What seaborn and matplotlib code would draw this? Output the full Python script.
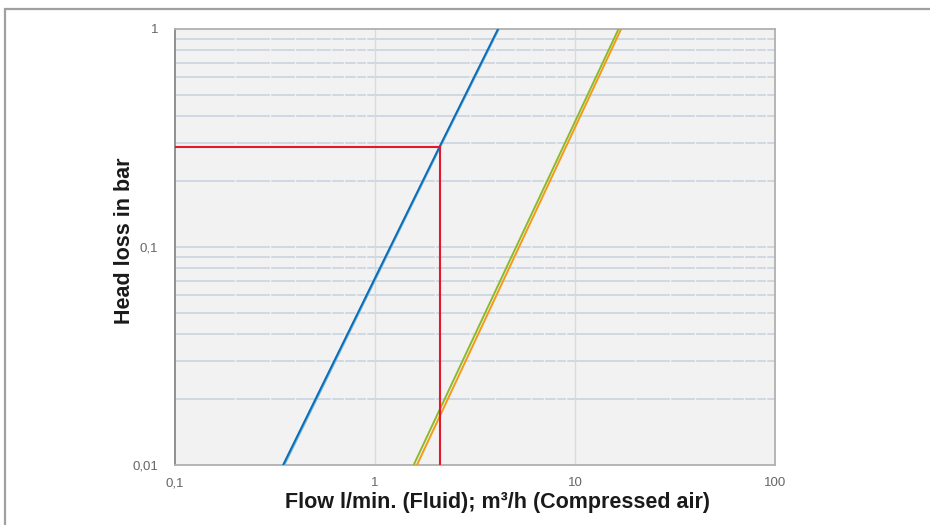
import numpy as np
import pandas as pd
import matplotlib
matplotlib.use('Agg')
import matplotlib.pyplot as plt
import matplotlib.ticker as mticker
from matplotlib.patches import Rectangle
import seaborn as sns

# flow values (x) and head loss (y)
blue_flow = [0.347, 2.1, 4.12]
blue_loss = [0.01, 0.288, 1.0]
lightblue_flow = [0.352, 2.12, 4.16]
lightblue_loss = [0.01, 0.288, 1.0]
green_flow = [1.56, 16.5]
green_loss = [0.01, 1.0]
orange_flow = [1.62, 17.0]
orange_loss = [0.01, 1.0]

# example reading (red guide lines)
read_flow = 2.11
read_loss = 0.288

x_ticks = [0.1, 1, 10, 100]
x_tick_labels = ['0,1', '1', '10', '100']
y_ticks = [0.01, 0.1, 1]
y_tick_labels = ['0,01', '0,1', '1']

frames = []
for name, xs, ys in [('blue', blue_flow, blue_loss), ('lightblue', lightblue_flow, lightblue_loss),
                     ('green', green_flow, green_loss), ('orange', orange_flow, orange_loss)]:
    frames.append(pd.DataFrame({'flow': xs, 'loss': ys, 'series': name}))
df = pd.concat(frames, ignore_index=True)

sns.set_style('white')
plt.rcParams['font.family'] = ['Liberation Sans', 'DejaVu Sans']

fig = plt.figure(figsize=(9.3, 5.25), dpi=100)
ax = fig.add_axes([0.1882, 0.1143, 0.6452, 0.8305])
ax.set_facecolor('#f2f2f2')
ax.set_xscale('log')
ax.set_yscale('log')
ax.set_xlim(0.1, 100)
ax.set_ylim(0.01, 1)

# horizontal grid at every minor/major y value
for dec in [0.01, 0.1]:
    for k in range(1, 10):
        v = dec * k
        if 0.01 < v < 1:
            ax.axhline(v, color='#cdd6e0', lw=1.3, zorder=1)
# small breaks in the horizontal grid at the minor x positions
for dec in [0.1, 1, 10]:
    for k in range(2, 10):
        ax.axvline(dec * k, color='#f2f2f2', lw=1.0, zorder=1.5)
for v in [1, 10]:
    ax.axvline(v, color='#dadada', lw=1.0, zorder=1.6)

palette = {'blue': '#0a6db5', 'lightblue': '#6fb1e0', 'green': '#8cba2c', 'orange': '#f59a14'}
order = ['lightblue', 'blue', 'orange', 'green']
sns.lineplot(data=df, x='flow', y='loss', hue='series', hue_order=order,
             palette=palette, linewidth=1.4, legend=False, ax=ax, zorder=3, estimator=None, sort=False)

ax.plot([0.1, read_flow], [read_loss, read_loss], color='#e3182d', lw=1.5, zorder=4)
ax.plot([read_flow, read_flow], [0.01, read_loss], color='#e3182d', lw=1.5, zorder=4)

ax.set_xlabel('')
ax.set_ylabel('')
ax.set_xticks(x_ticks)
ax.set_xticklabels(x_tick_labels)
ax.set_yticks(y_ticks)
ax.set_yticklabels(y_tick_labels)
ax.xaxis.set_minor_locator(mticker.LogLocator(base=10, subs=np.arange(2, 10)))
ax.xaxis.set_minor_formatter(mticker.NullFormatter())
ax.yaxis.set_minor_locator(mticker.NullLocator())
ax.tick_params(axis='both', which='major', labelsize=9.5, labelcolor='#666666', color='#999999', width=1)
ax.tick_params(axis='x', which='major', direction='out', length=5, pad=4)
ax.tick_params(axis='x', which='minor', direction='in', length=3, color='#cccccc')
ax.tick_params(axis='y', which='major', length=0, pad=12)

for side in ['top', 'right', 'bottom']:
    ax.spines[side].set_color('#b0b0b0')
    ax.spines[side].set_linewidth(1.3)
ax.spines['left'].set_color('#888888')
ax.spines['left'].set_linewidth(1.3)

fig.text(0.535, 0.0438, 'Flow l/min. (Fluid); m³/h (Compressed air)', fontsize=15.5, fontweight='bold',
         color='#1a1a1a', ha='center', va='center')
fig.text(0.1344, 0.541, 'Head loss in bar', fontsize=15.5, fontweight='bold', color='#1a1a1a',
         rotation=90, ha='center', va='center')

# outer frame of the figure
fig.patches.append(Rectangle((5 / 930, -0.05), 1.0, 1 - 9 / 525 + 0.05, transform=fig.transFigure,
                             fill=False, edgecolor='#a0a0a0', lw=1.6))

fig.savefig('out.png', dpi=100)
